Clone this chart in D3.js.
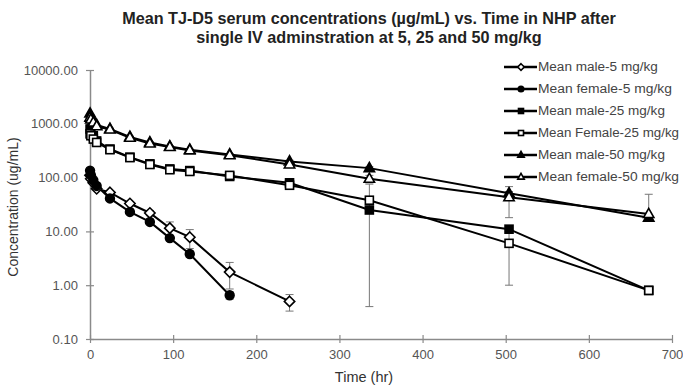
<!DOCTYPE html>
<html>
<head>
<meta charset="utf-8">
<script src="https://cdn.jsdelivr.net/npm/d3@7"></script>
<style>
  html, body { margin: 0; padding: 0; background: #fff; }
  svg { display: block; font-family: "Liberation Sans", Arial, sans-serif; }
</style>
</head>
<body>
<svg id="chart" width="683" height="387"></svg>
<script>
// ---- Data ----
const times = [0.083, 1, 4, 8, 24, 48, 72, 96, 120, 168, 240, 336, 504, 672];

const male5     = [110, 95, 80, 62, 53, 33, 22, 11.5, 7.8, 1.75, 0.5, null, null, null];
const male5Sd   = [0, 0, 0, 0, 3, 3, 2.5, 3.5, 3, 0.9, 0.17, null, null, null];
const female5   = [135, 112, 90, 70, 41, 23, 15, 7.5, 3.8, 0.65, null, null, null, null];
const female5Sd = [0, 0, 0, 0, 2, 1.5, 1, 0.8, 0.5, 0.1, null, null, null, null];
const male25    = [800, 700, 600, 480, 340, 240, 180, 145, 135, 105, 80, 25, 11, 0.8];
const male25Sd  = [0, 0, 0, 0, 20, 15, 10, 8, 8, 8, 8, 3, 1, 0.05];
const female25  = [650, 600, 520, 450, 330, 235, 175, 140, 130, 110, 72, 38, 6, 0.8];
const female25Sd= [0, 0, 0, 0, 20, 15, 10, 8, 8, 10, 10, 37.6, 5, 0.05];
const male50    = [1550, 1350, 1150, 950, 800, 570, 450, 380, 330, 270, 200, 150, 51, 18];
const male50Sd  = [0, 0, 0, 0, 30, 20, 15, 12, 10, 10, 10, 10, 4, 2];
const female50  = [1300, 1200, 1050, 900, 780, 550, 430, 370, 320, 260, 175, 95, 43, 21];
const female50Sd= [0, 0, 0, 0, 30, 20, 15, 12, 10, 10, 12, 15, 25, 28];

const seriesNames = ["Mean male-5 mg/kg", "Mean female-5 mg/kg", "Mean male-25 mg/kg",
                     "Mean Female-25 mg/kg", "Mean male-50 mg/kg", "Mean female-50 mg/kg"];
const seriesValues = [male5, female5, male25, female25, male50, female50];
const seriesSd = [male5Sd, female5Sd, male25Sd, female25Sd, male50Sd, female50Sd];
const seriesMarkers = ["diamondOpen", "circle", "square", "squareOpen", "triangle", "triangleOpen"];

const xTicks = [0, 100, 200, 300, 400, 500, 600, 700];
const yTicks = [0.1, 1, 10, 100, 1000, 10000];

const titleLines = ["Mean TJ-D5 serum concentrations (\u00b5g/mL) vs. Time in NHP after",
                    "single IV adminstration at 5, 25 and 50 mg/kg"];
const xLabel = "Time (hr)";
const yLabel = "Concentration (ug/mL)";

// ---- Layout ----
const svg = d3.select("#chart");
const x = d3.scaleLinear().domain([0, 700]).range([90, 672]);
const y = d3.scaleLog().domain([0.1, 10000]).range([339, 70]);
const axisColor = "#8a8a8a";
const labelColor = "#555";

// Title
svg.append("g").selectAll("text").data(titleLines).join("text")
  .attr("x", 369).attr("y", (d, i) => 24 + i * 19)
  .attr("text-anchor", "middle")
  .attr("font-size", 16.2).attr("font-weight", "bold").attr("fill", "#222")
  .text(d => d);

// Axes
const xAxis = d3.axisBottom(x).tickValues(xTicks).tickSize(0).tickFormat(d3.format("d"));
const gx = svg.append("g").attr("transform", `translate(0,${y(0.1)})`).call(xAxis);
gx.select(".domain").attr("stroke", axisColor).attr("stroke-width", 1.5);
gx.selectAll(".tick text").attr("dy", "1.3em").attr("font-size", 13).attr("fill", labelColor)
  .attr("font-family", "Liberation Sans, Arial, sans-serif");
gx.selectAll(".tick").append("line").attr("y1", -4).attr("y2", 4).attr("stroke", axisColor).attr("stroke-width", 1.2);

const yAxis = d3.axisLeft(y).tickValues(yTicks).tickSize(0).tickFormat(d3.format(".2f"));
const gy = svg.append("g").attr("transform", `translate(${x(0)},0)`).call(yAxis);
gy.select(".domain").attr("stroke", axisColor).attr("stroke-width", 1.5);
gy.selectAll(".tick text").attr("dx", "-0.7em").attr("font-size", 13).attr("fill", labelColor)
  .attr("font-family", "Liberation Sans, Arial, sans-serif");
gy.selectAll(".tick").append("line").attr("x1", -4).attr("x2", 4).attr("stroke", axisColor).attr("stroke-width", 1.2);

// Axis labels
svg.append("text").attr("x", 364).attr("y", 382).attr("text-anchor", "middle")
  .attr("font-size", 14.5).attr("fill", "#333").text(xLabel);
svg.append("text").attr("transform", `translate(18,207) rotate(-90)`)
  .attr("text-anchor", "middle").attr("font-size", 14).attr("fill", "#333").text(yLabel);

// Marker drawing
function drawMarker(g, type, cx, cy, s) {
  const open = type.endsWith("Open");
  const fill = open ? "#fff" : "#000";
  const base = type.replace("Open", "");
  let el;
  if (base === "circle") {
    el = g.append("circle").attr("cx", cx).attr("cy", cy).attr("r", s * 0.55);
  } else if (base === "square") {
    el = g.append("rect").attr("x", cx - s / 2).attr("y", cy - s / 2).attr("width", s).attr("height", s);
  } else if (base === "diamond") {
    const r = s * 0.65;
    el = g.append("path").attr("d", `M${cx},${cy - r}L${cx + r},${cy}L${cx},${cy + r}L${cx - r},${cy}Z`);
  } else {
    const r = s * 0.72;
    el = g.append("path").attr("d", `M${cx},${cy - r}L${cx + r * 0.9},${cy + r * 0.6}L${cx - r * 0.9},${cy + r * 0.6}Z`);
  }
  el.attr("fill", fill).attr("stroke", "#000").attr("stroke-width", 1.6);
}

const plot = svg.append("g");

// Error bars
seriesValues.forEach((vals, si) => {
  const sd = seriesSd[si];
  const eg = plot.append("g").attr("stroke", "#777").attr("stroke-width", 1);
  vals.forEach((v, i) => {
    if (v == null || !sd[i]) return;
    const cx = x(times[i]);
    const hi = v + sd[i];
    const lo = v - sd[i];
    eg.append("line").attr("x1", cx).attr("x2", cx).attr("y1", y(v)).attr("y2", y(hi));
    eg.append("line").attr("x1", cx - 4).attr("x2", cx + 4).attr("y1", y(hi)).attr("y2", y(hi));
    if (lo > 0.1) {
      eg.append("line").attr("x1", cx).attr("x2", cx).attr("y1", y(v)).attr("y2", y(lo));
      eg.append("line").attr("x1", cx - 4).attr("x2", cx + 4).attr("y1", y(lo)).attr("y2", y(lo));
    }
  });
});

// Lines
const line = d3.line().defined(d => d[1] != null).x(d => x(d[0])).y(d => y(d[1]));
seriesValues.forEach((vals, si) => {
  const pts = times.map((t, i) => [t, vals[i]]);
  plot.append("path").attr("d", line(pts)).attr("fill", "none")
    .attr("stroke", "#000").attr("stroke-width", 2);
});

// Markers
seriesValues.forEach((vals, si) => {
  const mg = plot.append("g");
  vals.forEach((v, i) => {
    if (v == null) return;
    drawMarker(mg, seriesMarkers[si], x(times[i]), y(v), 8);
  });
});

// Legend
const legend = svg.append("g");
seriesNames.forEach((name, i) => {
  const ly = 67 + i * 22;
  legend.append("line").attr("x1", 504).attr("x2", 537).attr("y1", ly).attr("y2", ly)
    .attr("stroke", "#000").attr("stroke-width", 2.5);
  drawMarker(legend, seriesMarkers[i], 521, ly, 5);
  legend.append("text").attr("x", 538).attr("y", ly + 4).attr("font-size", 12.5)
    .attr("fill", "#444").attr("textLength", name.length * 7.05).attr("lengthAdjust", "spacingAndGlyphs")
    .text(name);
});
</script>
</body>
</html>
